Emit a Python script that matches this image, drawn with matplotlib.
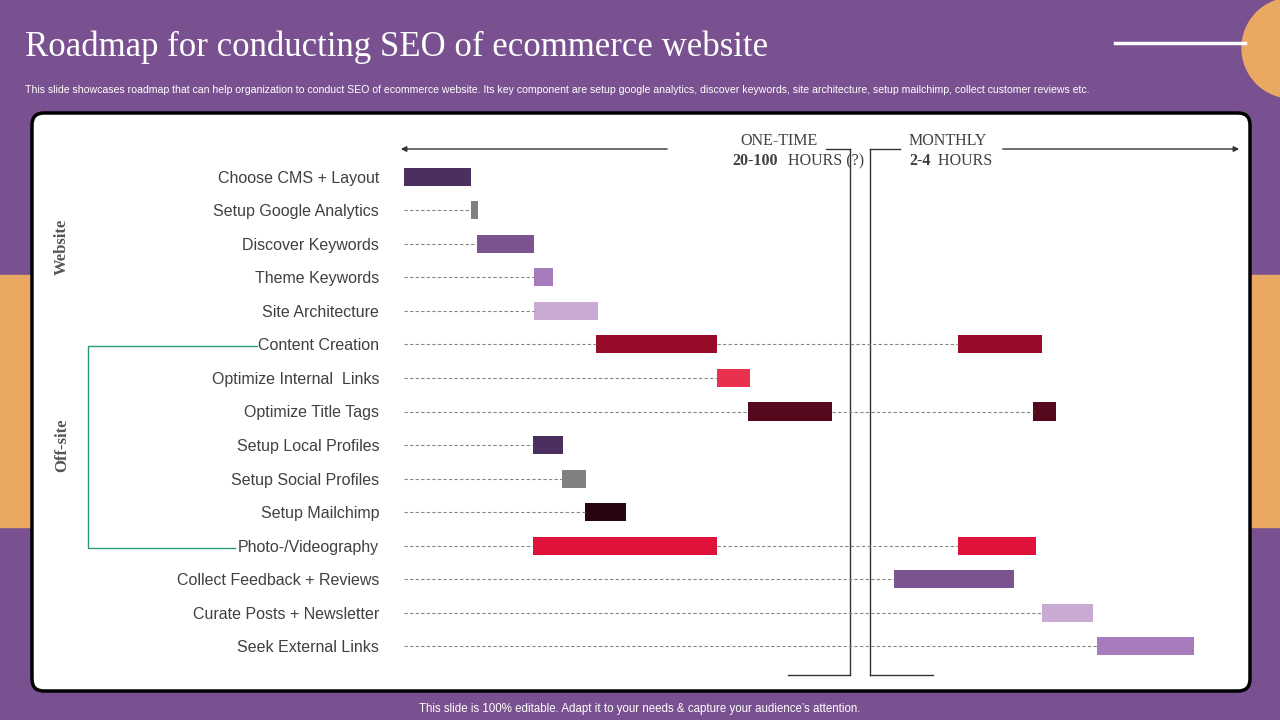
import matplotlib
matplotlib.use("Agg")
import matplotlib.pyplot as plt
from matplotlib.patches import FancyBboxPatch, Rectangle, Circle

tasks = ["Choose CMS + Layout", "Setup Google Analytics", "Discover Keywords", "Theme Keywords",
         "Site Architecture", "Content Creation", "Optimize Internal  Links", "Optimize Title Tags",
         "Setup Local Profiles", "Setup Social Profiles", "Setup Mailchimp", "Photo-/Videography",
         "Collect Feedback + Reviews", "Curate Posts + Newsletter", "Seek External Links"]
# time-axis units (start, end) for first and optional second segment
seg1_start = [4, 71, 77, 134, 134, 196, 317, 348, 133, 162, 185, 133, 494, 642, 697]
seg1_end = [71, 78, 134, 153, 198, 317, 350, 432, 163, 186, 226, 317, 614, 693, 794]
seg2_start = [None, None, None, None, None, 558, None, 633, None, None, None, 558, None, None, None]
seg2_end = [None, None, None, None, None, 642, None, 656, None, None, None, 636, None, None, None]
colors = ["#4B2F5E", "#808080", "#7B5391", "#A57BBB", "#C8AAD3", "#970C28", "#E8304F", "#55091C",
          "#4B2F5E", "#808080", "#2A0510", "#E0113A", "#7B5391", "#C8AAD3", "#A57BBB"]

W, H = 1280, 720
fig = plt.figure(figsize=(12.8, 7.2), dpi=100)
bg = fig.add_axes([0, 0, 1, 1])
bg.set_xlim(0, W); bg.set_ylim(H, 0); bg.axis("off")
PURPLE = "#7A5190"; ORANGE = "#EBA863"
bg.add_patch(Rectangle((0, 0), W, H, color=PURPLE))
bg.add_patch(Rectangle((0, 275), 32, 252, color=ORANGE))
bg.add_patch(Rectangle((1248, 275), 32, 252, color=ORANGE))
bg.add_patch(Circle((1292, 48), 50, color=ORANGE))
bg.plot([1115, 1245], [43, 43], color="white", lw=2.5)
bg.add_patch(FancyBboxPatch((32, 113), 1218, 578, boxstyle="round,pad=0,rounding_size=12",
                            fc="white", ec="black", lw=2.5))
bg.text(25, 47, "Roadmap for conducting SEO of ecommerce website", color="white",
        fontsize=25, family="Liberation Serif", va="center")
bg.text(25, 90, "This slide showcases roadmap that can help organization to conduct SEO of ecommerce website. Its key component are setup google analytics, discover keywords, site architecture, setup mailchimp, collect customer reviews etc.",
        color="white", fontsize=7.6, family="Liberation Sans", va="center")
bg.text(640, 709, "This slide is 100% editable. Adapt it to your needs & capture your audience\u2019s attention.",
        color="white", fontsize=8.3, family="Liberation Sans", ha="center", va="center")
# brackets
lc = "#333333"
bg.plot([850, 850], [149, 675], color=lc, lw=1); bg.plot([826, 850], [149, 149], color=lc, lw=1)
bg.plot([788, 850], [675, 675], color=lc, lw=1)
bg.plot([870, 870], [149, 675], color=lc, lw=1); bg.plot([870, 900], [149, 149], color=lc, lw=1)
bg.plot([870, 933], [675, 675], color=lc, lw=1)
bg.annotate("", xy=(398, 149), xytext=(670, 149), arrowprops=dict(arrowstyle="-|>", color=lc, lw=1, mutation_scale=8))
bg.annotate("", xy=(1242, 149), xytext=(1000, 149), arrowprops=dict(arrowstyle="-|>", color=lc, lw=1, mutation_scale=8))
sf = dict(family="Liberation Serif", fontsize=11.5, color="#404040", ha="center", va="center")
bg.text(779, 141, "ONE-TIME", **sf)
bg.text(755, 161, "20-100", **{**sf, "fontweight": "bold"}); bg.text(780, 161, "  HOURS (?)", **{**sf, "ha": "left"})
bg.text(948, 141, "MONTHLY", **sf)
bg.text(920, 161, "2-4", **{**sf, "fontweight": "bold"}); bg.text(934, 161, " HOURS", **{**sf, "ha": "left"})
bg.text(62, 247, "Website", rotation=90, **{**sf, "fontweight": "bold", "fontsize": 12, "color": "#555555"})
bg.text(62, 445, "Off-site", rotation=90, **{**sf, "fontweight": "bold", "fontsize": 12, "color": "#555555"})
bg.plot([257, 88, 88, 235], [346, 346, 548, 548], color="#2E9B6E", lw=1)

ax = fig.add_axes([400 / W, 1 - 663 / H, 840 / W, 503 / H])
ax.set_facecolor("none")
ax.set_xlim(0, 840); ax.set_ylim(14.5, -0.5)
for s in ax.spines.values():
    s.set_visible(False)
ax.set_xticks([])
ax.set_yticks(range(len(tasks)))
ax.set_yticklabels(tasks, fontsize=11.5, color="#404040", family="Liberation Sans")
ax.tick_params(axis="y", length=0, pad=15)
for i in range(len(tasks)):
    pts = [4, seg1_start[i]]
    if seg1_start[i] > 4:
        ax.plot([4, seg1_start[i]], [i, i], ls=(0, (3, 2)), color="#888888", lw=0.8)
    ax.barh(i, seg1_end[i] - seg1_start[i], left=seg1_start[i], height=0.54, color=colors[i])
    if seg2_start[i] is not None:
        ax.plot([seg1_end[i], seg2_start[i]], [i, i], ls=(0, (3, 2)), color="#888888", lw=0.8)
        ax.barh(i, seg2_end[i] - seg2_start[i], left=seg2_start[i], height=0.54, color=colors[i])
fig.savefig("out.png", dpi=100)
